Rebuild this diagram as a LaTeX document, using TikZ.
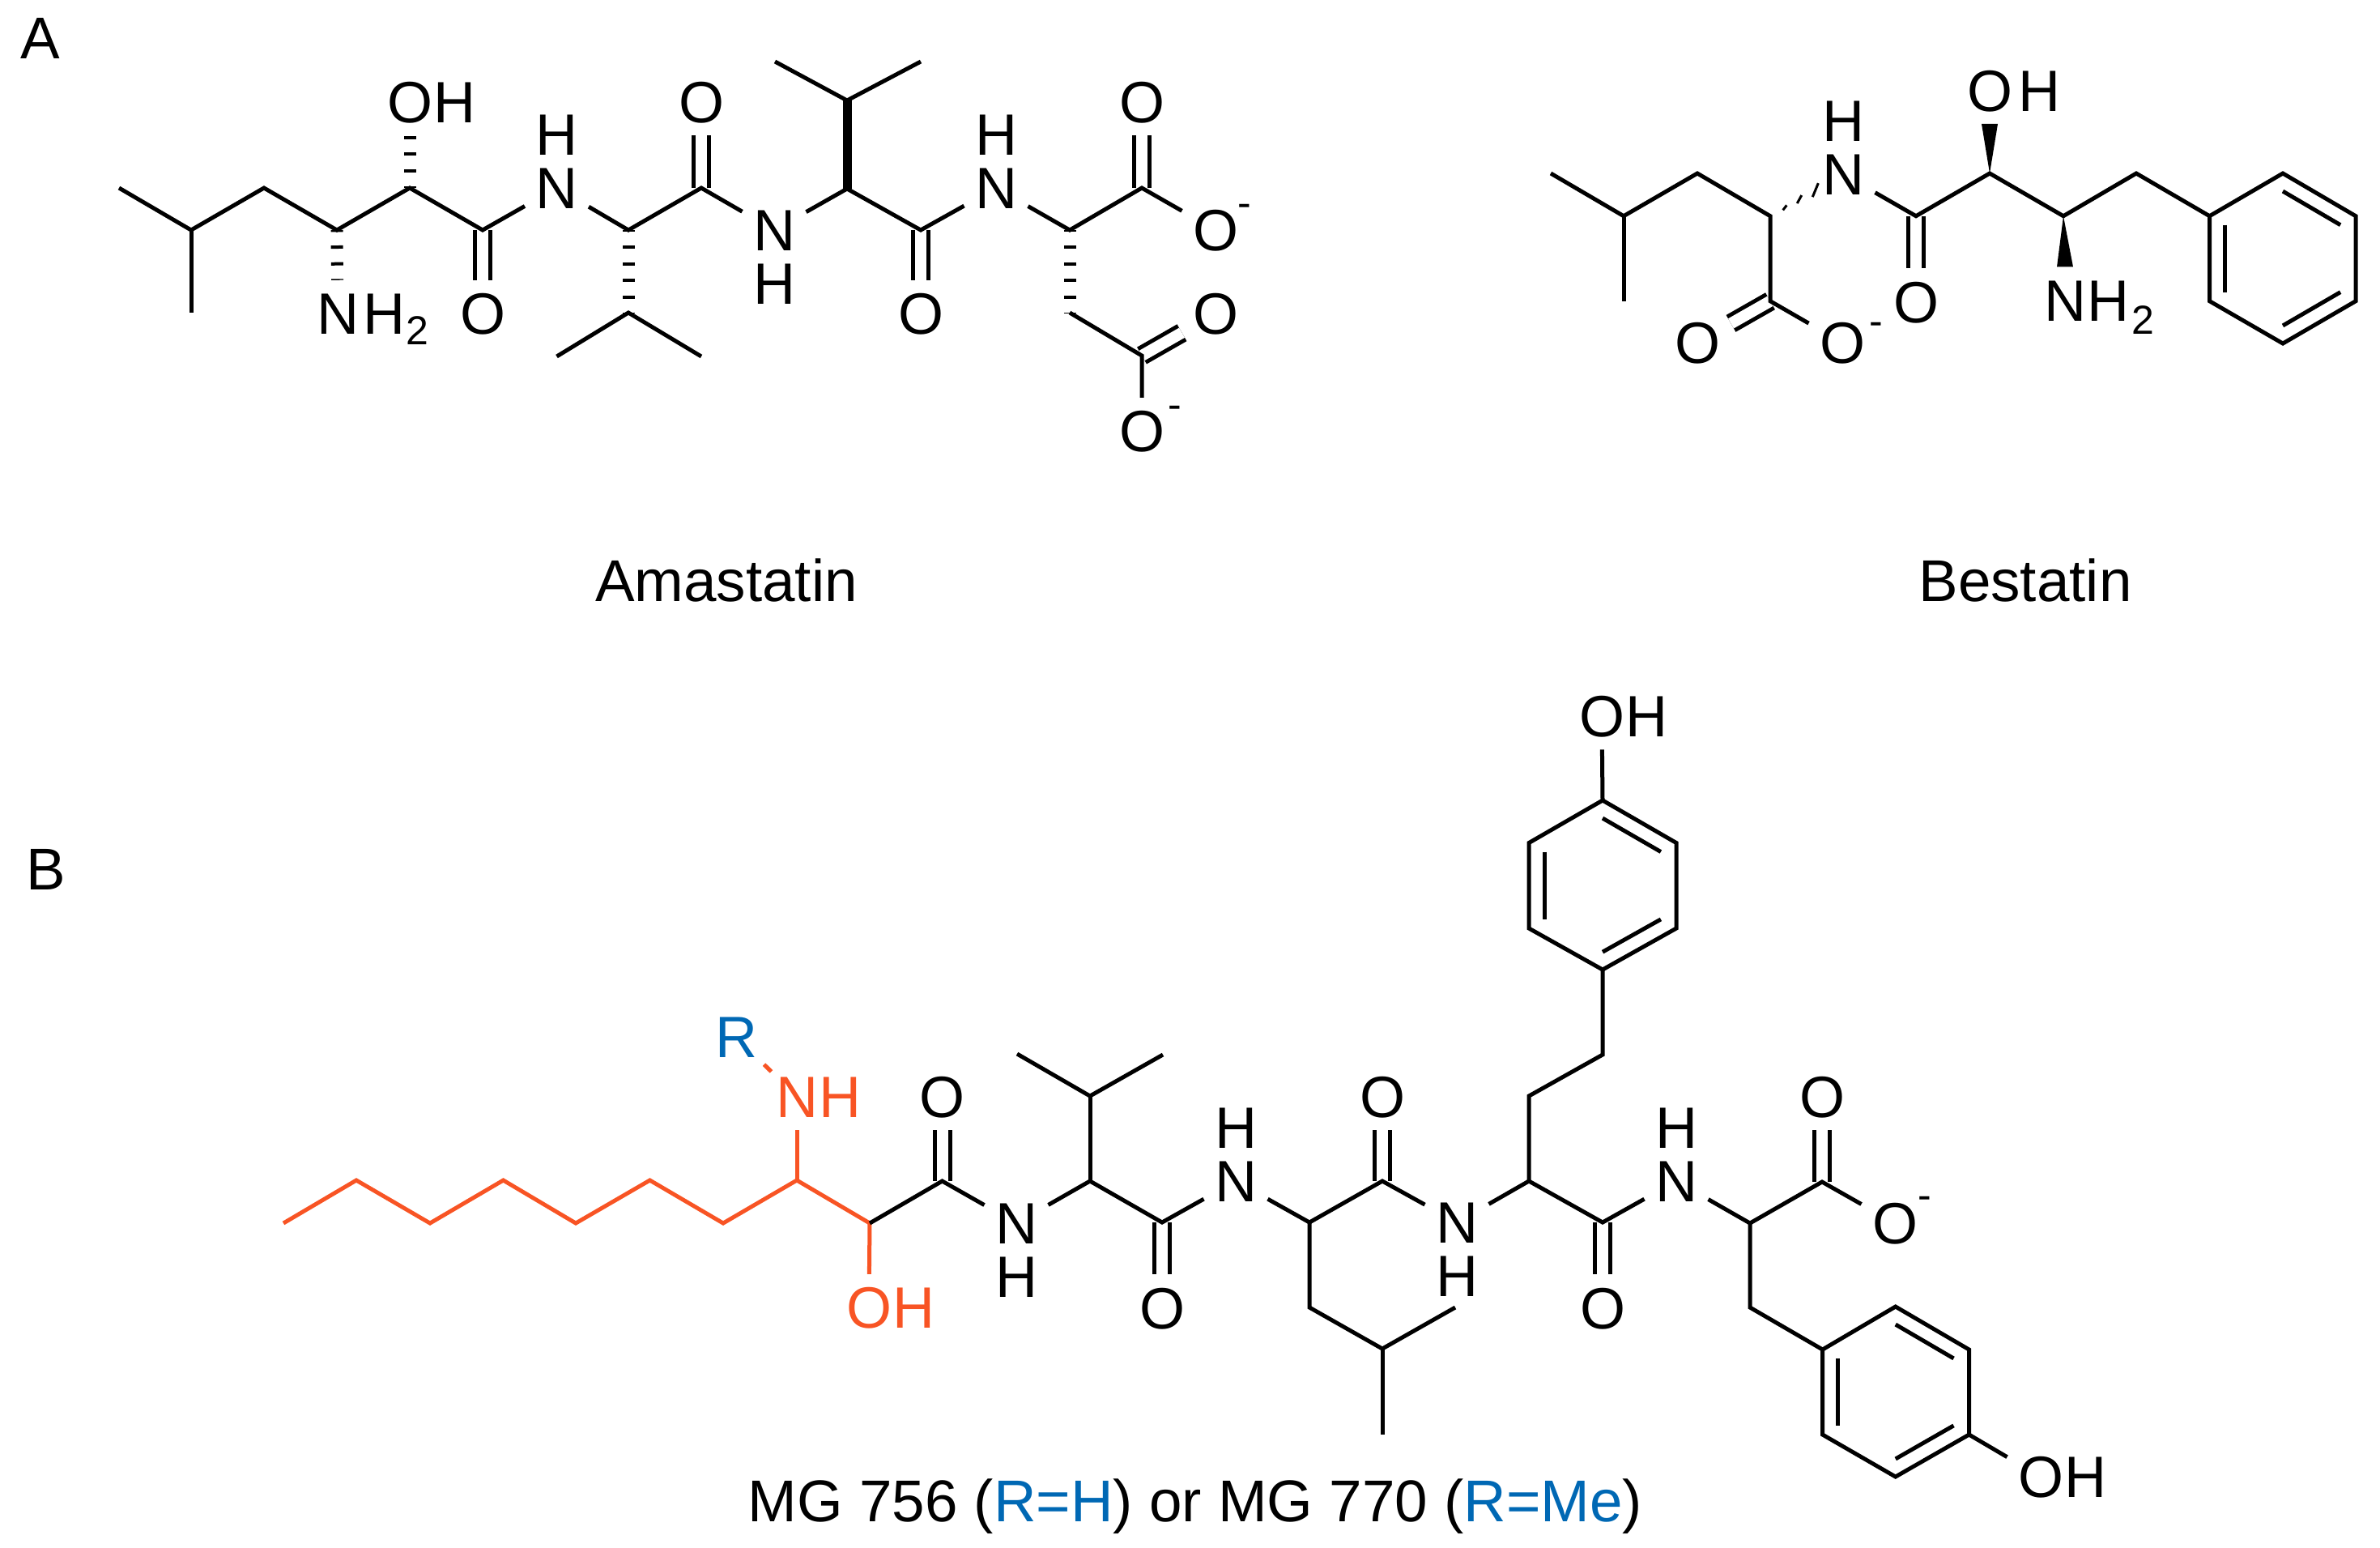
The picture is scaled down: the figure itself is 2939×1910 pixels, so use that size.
\documentclass[tikz,border=0pt]{standalone}
\usepackage{fontspec}
\setmainfont{Liberation Sans}
\usetikzlibrary{positioning,calc}
\definecolor{mgorange}{RGB}{248,84,36}
\definecolor{mgblue}{RGB}{0,104,180}
\tikzset{
  atom/.style={font=\fontsize{7.2}{7.2}\selectfont, inner xsep=1.1pt, inner ysep=1.3pt, text height=5.15pt, text depth=0pt},
  tiny/.style={font=\fontsize{5}{5}\selectfont, inner sep=0pt},
  molname/.style={font=\fontsize{7.28}{7.28}\selectfont, inner sep=0pt, text height=5.15pt, text depth=0pt},
  dbl/.style={double, double distance=1.4pt},
  hash/.style={line width=1.5pt, dash pattern=on .4pt off 1.67pt, dash phase=.17pt},
  bold/.style={line width=1.1pt},
  hashtick/.style={line width=.3pt}
}
\newcommand\ringdbl[3]{\draw ($(#1)!0.79!(#2)$) -- ($(#1)!0.79!(#3)$);}
\newcommand\wedgebond[3]{\fill (#1) -- ([xshift=-1pt]#2.#3) -- ([xshift=1pt]#2.#3) -- cycle;}

\begin{document}
\begin{tikzpicture}[x=0.1pt,y=-0.1pt,line width=.5pt]
\useasboundingbox (0,0) rectangle (2939,1910);

% panel A, amastatin
\node[molname] (panelA) at (50,47) {A};
\foreach \n/\x/\y in {a1/147/232,a2/236/284,a3/236/386,a4/326/232,a5/416/284,a6/506/232,a7/596/284,
  a8/776/284,a9/776/386,a10/687.5/440,a11/866/440,a12/866/232,a13/1046/233,a14/1046/124,a15/957/76,
  a16/1137/76,a17/1137/284,a18/1321/284,a19/1410/232,a20/1321/386,a21/1410/439}
  \coordinate (\n) at (\x,\y);

\node[atom] (amo1) at (506,126) {O};
\node[atom,right=-2.6pt of amo1] (amh1) {H};
\node[atom] (amn1) at (417,387) {N};
\node[atom,right=-2.2pt of amn1] (amh2) {H};
\node[tiny] (ams1) at ([xshift=4.1pt,yshift=-2.1pt]amh2.center) {2};
\node[atom] (amo2) at (596,387) {O};
\node[atom] (amn2) at (687.5,232) {N};
\node[atom,above=-1.66pt of amn2] (amh3) {H};
\node[atom] (amo3) at (866,126) {O};
\node[atom] (amn3) at (956,284) {N};
\node[atom,below=-1.66pt of amn3] (amh4) {H};
\node[atom] (amo4) at (1137,387) {O};
\node[atom] (amn4) at (1230,232) {N};
\node[atom,above=-1.66pt of amn4] (amh5) {H};
\node[atom] (amo5) at (1410,126) {O};
\node[atom] (amo6) at (1501,284) {O};
\node[tiny] (amc1) at ([xshift=3.6pt,yshift=2.4pt]amo6.center) {-};
\node[atom] (amo7) at (1501,387) {O};
\node[atom] (amo8) at (1410,532) {O};
\node[tiny] (amc2) at ([xshift=4.1pt,yshift=2.3pt]amo8.center) {-};

\draw[dbl] (a7) -- (amo2);
\draw[dbl] (a12) -- (amo3);
\draw[dbl] (a17) -- (amo4);
\draw[dbl] (a19) -- (amo5);
\draw[dbl] (a21) -- (amo7);
\draw (a1) -- (a2) -- (a4) -- (a5) -- (a6) -- (a7) -- (amn2) -- (a8) -- (a12) -- (amn3) -- (a13)
  -- (a17) -- (amn4) -- (a18) -- (a19) -- (amo6);
\draw (a2) -- (a3);
\draw (a10) -- (a9) -- (a11);
\draw (a15) -- (a14) -- (a16);
\draw (a20) -- (a21) -- (amo8);
\draw[bold] (a13) -- (a14);
\draw[hash] (a5) -- (amn1);
\draw[hash] (a6) -- (amo1);
\draw[hash] (a8) -- (a9);
\draw[hash] (a18) -- (a20);
\node[molname] (amname) at (897,717) {Amastatin};

% bestatin
\foreach \n/\x/\y in {b1/1915/214,b2/2005/266.7,b3/2005/371.7,b4/2096/214,b5/2186/266.7,b6/2186/371.7,
  b7/2366/266.7,b8/2457/214,b9/2548/266.7,b10/2638/214,b11/2728.5/266.7,b12/2819/214,b13/2909/266.7,
  b14/2909/371.7,b15/2819/424,b16/2728.5/371.7,bc/2819/319}
  \coordinate (\n) at (\x,\y);

\node[atom] (beo1) at (2096,423) {O};
\node[atom] (beo2) at (2275,423) {O};
\node[tiny] (bec1) at ([xshift=4.2pt,yshift=1.7pt]beo2.center) {-};
\node[atom] (ben1) at (2276,215) {N};
\node[atom,above=-1.66pt of ben1] (beh1) {H};
\node[atom] (beo3) at (2366,372.7) {O};
\node[atom] (beo4) at (2457,111.7) {O};
\node[atom,right=-2pt of beo4] (beh2) {H};
\node[atom] (ben2) at (2550,370.7) {N};
\node[atom,right=-2.6pt of ben2] (beh3) {H};
\node[tiny] (bes1) at ([xshift=4.3pt,yshift=-2.4pt]beh3.center) {2};

\draw[dbl] (b6) -- (beo1);
\draw[dbl] (b7) -- (beo3);
\draw (b1) -- (b2) -- (b4) -- (b5) -- (b6) -- (beo2);
\draw (b2) -- (b3);
\draw (ben1) -- (b7) -- (b8) -- (b9) -- (b10) -- (b11);
\draw (b11) -- (b12) -- (b13) -- (b14) -- (b15) -- (b16) -- cycle;
\ringdbl{bc}{b12}{b13}
\ringdbl{bc}{b11}{b16}
\ringdbl{bc}{b14}{b15}
\wedgebond{b8}{beo4}{south}
\wedgebond{b9}{ben2}{north}
\foreach \t/\dx/\dy in {.2/2.3/3,.4/2.75/5,.62/3.5/8.5}
  \draw[hashtick] ($(b5)!\t!(ben1)+(\dx,-\dy)$) -- ($(b5)!\t!(ben1)-(\dx,-\dy)$);
\node[molname] (bename) at (2501,717) {Bestatin};

% panel B
\node[molname] (panelB) at (57,1073) {B};
\foreach \n/\x/\y in {m1/350/1510,m2/440/1457,m3/531/1510,m4/621.5/1457,m5/711/1510,m6/802.5/1457,
  m7/893/1510,m8/984/1457,m9/1074/1510,m10/1163.5/1458,m11/1346/1458,m12/1435/1509,m13/1617/1509,
  m14/1707/1458,m15/1888/1458,m16/1979/1509,m17/2161/1510,m18/2250/1459,m19/1346/1353,m20/1256/1301,
  m21/1436/1302,m22/1617/1614,m23/1707/1665,m24/1797/1614,m25/1707/1771,m26/1888/1353,m27/1979/1302,
  m28/1979/1197,m29/2070/1146,m30/2070/1040.5,m31/1979/988,m32/1888/1040.5,m33/1888/1146,mc1/1979/1093,
  m34/2161/1614,m35/2250.6/1666,m36/2340.7/1613,m37/2431.5/1666,m38/2431.5/1771,m39/2340.7/1823,
  m40/2250.6/1771,mc2/2341/1718}
  \coordinate (\n) at (\x,\y);

\node[atom,text=mgblue] (mgr) at (909,1280) {R};
\node[atom,text=mgorange] (mgn1) at (984,1354) {N};
\node[atom,text=mgorange,right=-2.6pt of mgn1] (mgh1) {H};
\node[atom,text=mgorange] (mgo1) at (1073,1614) {O};
\node[atom,text=mgorange,right=-2.6pt of mgo1] (mgh2) {H};
\node[atom] (mgo2) at (1163.5,1354) {O};
\node[atom] (mgn2) at (1255,1510) {N};
\node[atom,below=-1.66pt of mgn2] (mgh3) {H};
\node[atom] (mgo3) at (1435,1614.5) {O};
\node[atom] (mgn3) at (1526,1458) {N};
\node[atom,above=-1.66pt of mgn3] (mgh4) {H};
\node[atom] (mgo4) at (1707,1354) {O};
\node[atom] (mgn4) at (1799,1509) {N};
\node[atom,below=-1.66pt of mgn4] (mgh5) {H};
\node[atom] (mgo5) at (1979,1614.5) {O};
\node[atom] (mgn5) at (2070,1458) {N};
\node[atom,above=-1.66pt of mgn5] (mgh6) {H};
\node[atom] (mgo6) at (2250,1354) {O};
\node[atom] (mgo7) at (2340,1510) {O};
\node[tiny] (mgc1) at ([xshift=3.7pt,yshift=2.5pt]mgo7.center) {-};
\node[atom] (mgo8) at (1978,884) {O};
\node[atom,right=-2.6pt of mgo8] (mgh7) {H};
\node[atom] (mgo9) at (2520,1823) {O};
\node[atom,right=-2.6pt of mgo9] (mgh8) {H};

\draw[mgorange] (m1) -- (m2) -- (m3) -- (m4) -- (m5) -- (m6) -- (m7) -- (m8) -- (m9);
\draw[mgorange] (m8) -- (mgn1);
\draw[mgorange] (m9) -- (mgo1);
\draw[mgorange] ($(mgr)!.46!(mgn1)$) -- ($(mgr)!.58!(mgn1)$);
\draw[dbl] (m10) -- (mgo2);
\draw[dbl] (m12) -- (mgo3);
\draw[dbl] (m14) -- (mgo4);
\draw[dbl] (m16) -- (mgo5);
\draw[dbl] (m18) -- (mgo6);
\draw (m9) -- (m10) -- (mgn2) -- (m11) -- (m12) -- (mgn3) -- (m13) -- (m14) -- (mgn4) -- (m15) -- (m16)
  -- (mgn5) -- (m17) -- (m18) -- (mgo7);
\draw (m11) -- (m19);
\draw (m20) -- (m19) -- (m21);
\draw (m13) -- (m22) -- (m23) -- (m24);
\draw (m23) -- (m25);
\draw (m15) -- (m26) -- (m27) -- (m28);
\draw (m28) -- (m29) -- (m30) -- (m31) -- (m32) -- (m33) -- cycle;
\draw (m31) -- (mgo8);
\ringdbl{mc1}{m31}{m30}
\ringdbl{mc1}{m32}{m33}
\ringdbl{mc1}{m28}{m29}
\draw (m17) -- (m34) -- (m35);
\draw (m35) -- (m36) -- (m37) -- (m38) -- (m39) -- (m40) -- cycle;
\draw (m38) -- (mgo9);
\ringdbl{mc2}{m36}{m37}
\ringdbl{mc2}{m35}{m40}
\ringdbl{mc2}{m38}{m39}
\node[molname] (mgname) at (1476,1852.5) {MG 756 ({\color{mgblue}R=H}) or MG 770 ({\color{mgblue}R=Me})};
\end{tikzpicture}
\end{document}
